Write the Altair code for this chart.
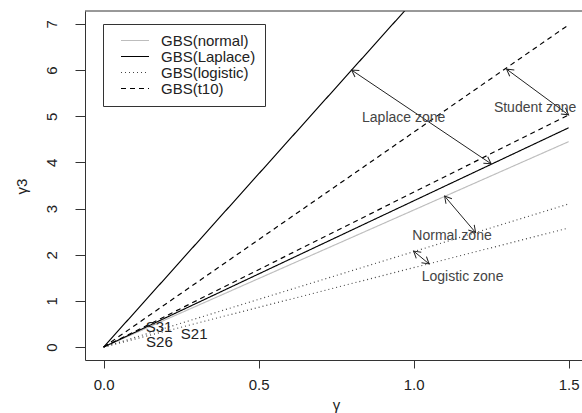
import math
import altair as alt
import pandas as pd

# ---------------- data ----------------
series_names = ["GBS(normal)", "GBS(Laplace)", "GBS(logistic)", "GBS(t10)"]

line_ids = ["normal", "laplace_hi", "laplace_lo", "logistic_hi", "logistic_lo", "t10_hi", "t10_lo"]
line_series = ["GBS(normal)", "GBS(Laplace)", "GBS(Laplace)", "GBS(logistic)",
               "GBS(logistic)", "GBS(t10)", "GBS(t10)"]
line_x_start = [0, 0, 0, 0, 0, 0, 0]
line_y_start = [0, 0, 0, 0, 0, 0, 0]
line_x_end = [1.5, 1.5, 1.5, 1.5, 1.5, 1.5, 1.5]
line_y_end = [4.45, 11.25, 4.75, 3.10, 2.58, 6.98, 5.03]

arrow_x1 = [0.80, 1.30, 1.10, 1.00]
arrow_y1 = [6.00, 6.02, 3.27, 2.08]
arrow_x2 = [1.25, 1.50, 1.20, 1.05]
arrow_y2 = [3.97, 5.03, 2.48, 1.80]

zone_labels = ["Laplace zone", "Student zone", "Normal zone", "Logistic zone"]
zone_x = [0.968, 1.392, 1.124, 1.158]
zone_y = [4.97, 5.18, 2.41, 1.51]

sample_labels = ["S31", "S26", "S21"]
sample_x = [0.179, 0.180, 0.292]
sample_y = [0.445, 0.110, 0.290]

x_ticks = [0.0, 0.5, 1.0, 1.5]
y_ticks = [0, 1, 2, 3, 4, 5, 6, 7]

# ---------------- layout ----------------
W, H = 497, 349
X_DOMAIN = [-0.06, 1.5432]
Y_DOMAIN = [-0.28, 7.28]
px_x = W / (X_DOMAIN[1] - X_DOMAIN[0])
px_y = H / (Y_DOMAIN[1] - Y_DOMAIN[0])
FONT = "Liberation Sans"

rows = []
for i, lid in enumerate(line_ids):
    rows.append({"id": lid, "series": line_series[i], "x": line_x_start[i], "y": line_y_start[i], "o": 0})
    rows.append({"id": lid, "series": line_series[i], "x": line_x_end[i], "y": line_y_end[i], "o": 1})
lines_df = pd.DataFrame(rows)

arrows_df = pd.DataFrame({"x1": arrow_x1, "y1": arrow_y1, "x2": arrow_x2, "y2": arrow_y2})

heads = []
for a, b, c, d in zip(arrow_x1, arrow_y1, arrow_x2, arrow_y2):
    for (hx, hy, tx, ty) in [(a, b, c, d), (c, d, a, b)]:
        dx = (hx - tx) * px_x
        dy = -(hy - ty) * px_y
        ang = math.degrees(math.atan2(dx, -dy)) % 360
        heads.append({"x": hx, "y": hy, "ang": ang})
heads_df = pd.DataFrame(heads)

zones_df = pd.DataFrame({"t": zone_labels, "x": zone_x, "y": zone_y})
samples_df = pd.DataFrame({"t": sample_labels, "x": sample_x, "y": sample_y})

xs = alt.Scale(domain=X_DOMAIN, nice=False, zero=False)
ys = alt.Scale(domain=Y_DOMAIN, nice=False, zero=False)

x_axis = alt.Axis(values=x_ticks, format=".1f", title="γ", grid=False, tickSize=8,
                  labelPadding=9, labelFontSize=15, labelFont=FONT, labelColor="#222",
                  titleFont=FONT, titleFontSize=15, titleFontWeight="normal", titleColor="#222",
                  titleX=251, titleY=44, titleBaseline="middle",
                  domainColor="#333", tickColor="#333", labelFlush=False)
y_axis = alt.Axis(values=y_ticks, format="d", title="γ3", grid=False, tickSize=10,
                  labelPadding=16, labelAngle=270, labelAlign="center", labelBaseline="bottom",
                  labelFontSize=15, labelFont=FONT, labelColor="#222",
                  titleFont=FONT, titleFontSize=15, titleFontWeight="normal", titleColor="#222",
                  titleAngle=270, titleX=-64, titleY=175, titleAlign="center", titleBaseline="middle",
                  domainColor="#333", tickColor="#333")

legend = alt.Legend(title=None, orient="none", legendX=18, legendY=13,
                    symbolType="M0.6,0H11.8", symbolSize=25, symbolStrokeWidth=1.1,
                    labelOffset=34, labelFontSize=15, labelFont=FONT, labelColor="#222",
                    padding=9, strokeColor="#333", fillColor="white", rowPadding=0,
                    labelLimit=300)

lines = alt.Chart(lines_df).mark_line(clip=True, strokeWidth=1.15).encode(
    x=alt.X("x:Q", scale=xs, axis=x_axis),
    y=alt.Y("y:Q", scale=ys, axis=y_axis),
    color=alt.Color("series:N", scale=alt.Scale(domain=series_names,
                    range=["#bdbdbd", "#000000", "#444444", "#000000"]), legend=legend),
    strokeDash=alt.StrokeDash("series:N", scale=alt.Scale(domain=series_names,
                    range=[[1, 0], [1, 0], [1, 3], [5, 4]]), legend=legend),
    detail="id:N",
    order="o:Q",
)

arrow_lines = alt.Chart(arrows_df).mark_rule(color="#222", strokeWidth=1).encode(
    x=alt.X("x1:Q", scale=xs), y=alt.Y("y1:Q", scale=ys),
    x2="x2:Q", y2="y2:Q",
)

arrow_heads = alt.Chart(heads_df).mark_point(
    shape="M-0.58,1L0,0L0.58,1", filled=False, color="#222", strokeWidth=1, size=180, opacity=1
).encode(
    x=alt.X("x:Q", scale=xs), y=alt.Y("y:Q", scale=ys),
    angle=alt.Angle("ang:Q", scale=None),
)

zone_text = alt.Chart(zones_df).mark_text(font=FONT, fontSize=14, color="#444",
                                          align="center", baseline="middle").encode(
    x=alt.X("x:Q", scale=xs), y=alt.Y("y:Q", scale=ys), text="t:N")

sample_text = alt.Chart(samples_df).mark_text(font=FONT, fontSize=15, color="#222",
                                              align="center", baseline="middle").encode(
    x=alt.X("x:Q", scale=xs), y=alt.Y("y:Q", scale=ys), text="t:N")

top_rule = alt.Chart(alt.Data(values=[{"a": 1}])).mark_rule(color="#333", strokeWidth=1).encode(
    x=alt.value(0), x2=alt.value(W), y=alt.value(0))

chart = alt.layer(lines, arrow_lines, arrow_heads, zone_text, sample_text, top_rule).properties(
    width=W, height=H,
    autosize=alt.AutoSizeParams(type="none"),
    padding={"left": 85, "top": 11, "right": 0, "bottom": 53},
    background="white",
).configure_view(stroke=None)

chart.save("out.html", embed_options={"renderer": "svg", "actions": False})
